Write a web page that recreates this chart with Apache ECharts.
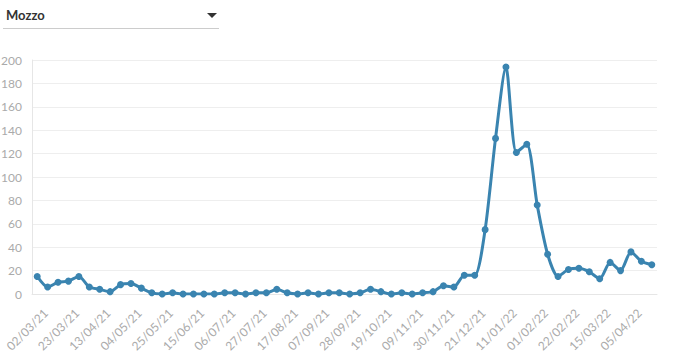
<!DOCTYPE html>
<html><head><meta charset="utf-8">
<script src="https://cdn.jsdelivr.net/npm/echarts@6/dist/echarts.min.js"></script>
<style>html,body{margin:0;padding:0;background:#fff}#c{width:686px;height:357px}</style>
</head><body><div id="c"></div>
<script>
var selectorLabel = "Mozzo";
var startDate = [2021, 3, 2];
var values = [15,6,10,11,15,6,4,2,8,9,5,1,0,1,0,0,0,0,1,1,0,1,1,4,1,0,1,0,1,1,0,1,4,2,0,1,0,1,2,7,6,16,16,55,133,194,121,128,76,34,15,21,22,19,13,27,20,36,28,25];
var yTicks = [0,20,40,60,80,100,120,140,160,180,200];

function pad(n){return (n<10?'0':'')+n;}
var categories = [];
var d0 = new Date(Date.UTC(startDate[0], startDate[1]-1, startDate[2]));
for (var i=0;i<values.length;i++){
  var d = new Date(d0.getTime() + i*7*86400000);
  categories.push(pad(d.getUTCDate())+'/'+pad(d.getUTCMonth()+1)+'/'+String(d.getUTCFullYear()).slice(2));
}
var chart = echarts.init(document.getElementById('c'), null, {renderer:'svg'});
chart.setOption({
  animation:false,
  textStyle:{fontFamily:'Lato'},
  grid:{left:32,right:29,top:60,bottom:63,containLabel:false,outerBoundsMode:'none'},
  graphic:[
    {type:'text',left:6,top:8,style:{text:selectorLabel,font:'bold 13px Lato',fill:'#333'}},
    {type:'polygon',shape:{points:[[207,13],[217,13],[212,18]]},style:{fill:'#333'}},
    {type:'line',shape:{x1:3,y1:28.5,x2:219,y2:28.5},style:{stroke:'#ccc',lineWidth:1}}
  ],
  xAxis:{type:'category',data:categories,boundaryGap:true,
    axisLine:{lineStyle:{color:'#e6e6e6'}},
    axisTick:{alignWithLabel:true,interval:0,length:5,lineStyle:{color:'#e6e6e6'}},
    axisLabel:{interval:2,rotate:45,color:'#aaa',fontSize:12,fontFamily:'Lato',margin:17,
      verticalAlign:'top',padding:[0,-6,0,0]}
  },
  yAxis:{type:'value',min:yTicks[0],max:yTicks[yTicks.length-1],interval:20,
    axisLine:{show:true,lineStyle:{color:'#e6e6e6'}},
    axisTick:{show:false},
    axisLabel:{color:'#aaa',fontSize:12,fontFamily:'Lato',margin:10},
    splitLine:{lineStyle:{color:'#eee'}}
  },
  series:[{type:'line',data:values,smooth:0.25,showAllSymbol:true,symbol:'circle',symbolSize:7,
    itemStyle:{color:'#3a84b0'},lineStyle:{color:'#3a84b0',width:3}}]
});
</script></body></html>
